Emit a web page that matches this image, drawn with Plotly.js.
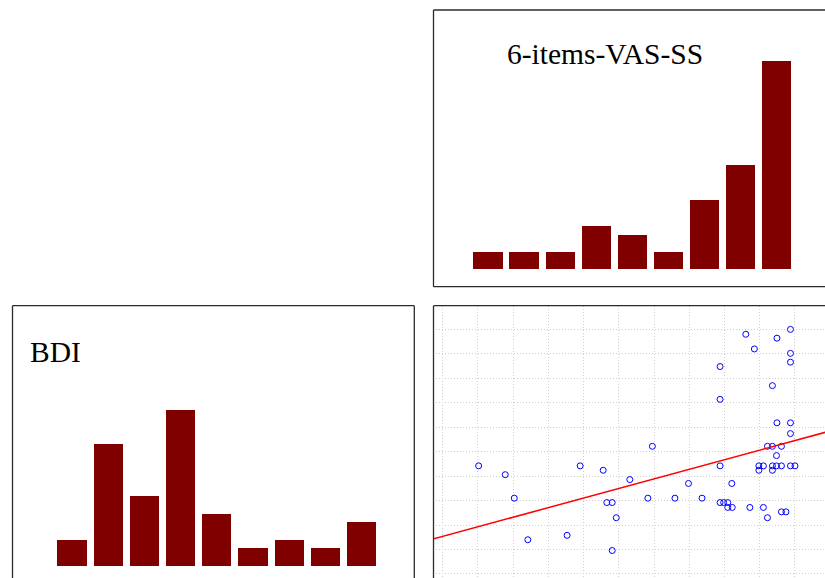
<!DOCTYPE html>
<html>
<head>
<meta charset="utf-8">
<script src="https://cdn.plot.ly/plotly-3.0.1.min.js"></script>
<style>
  html, body { margin: 0; padding: 0; background: #fff; overflow: hidden; }
  #chart { width: 825px; height: 578px; }
</style>
</head>
<body>
<div id="chart"></div>
<script>
// ---- data ----
const binIndex = [1, 2, 3, 4, 5, 6, 7, 8, 9];
const vasCounts = [2, 2, 2, 5, 4, 2, 8, 12, 24];
const bdiCounts = [3, 14, 8, 18, 6, 2, 3, 2, 5];

const vasLabel = "6-items-VAS-SS";
const bdiLabel = "BDI";

const vasScore = [-0.1, 5.8, 7.8, 10.8, 19.5, 22.4, 27.5, 28.3, 29.5, 30.4,
  29.5, 33.4, 37.4, 38.4, 43.4, 46.4, 49.4, 53.4, 53.4, 53.4,
  53.4, 54.2, 55.1, 55.1, 56.1, 56.0, 59.1, 60.0, 61.0, 62.0,
  63.0, 62.0, 63.0, 63.9, 65.0, 67.0, 63.9, 65.0, 65.0, 65.9,
  67.0, 65.0, 65.9, 66.0, 66.0, 67.0, 68.0, 69.0, 69.0, 69.0,
  69.0, 69.0, 69.0, 70.0];
const bdiScore = [22.1, 20.3, 15.5, 7.0, 7.9, 22.1, 21.2, 14.6, 14.6, 11.5,
  4.8, 19.3, 15.5, 26.1, 15.5, 18.5, 15.5, 42.4, 35.7, 22.1,
  14.6, 14.6, 14.6, 13.6, 13.6, 18.5, 49.0, 13.6, 46.0, 22.1,
  22.1, 21.2, 13.6, 26.1, 26.1, 26.1, 11.5, 38.5, 22.1, 22.1,
  22.1, 21.2, 24.2, 48.2, 30.9, 12.7, 12.7, 50.0, 45.1, 43.3,
  30.9, 28.7, 22.1, 22.1];

const fitIntercept = 9.71;
const fitSlope = 0.251;

// ---- layout helpers (pixel -> paper) ----
const W = 825, H = 578;
const px = v => v / W;
const py = v => 1 - v / H;

const barColor = "#800000";
const fitX = [-15, 85];
const fitY = fitX.map(x => fitIntercept + fitSlope * x);

const traces = [
  { type: "bar", x: binIndex, y: vasCounts, xaxis: "x", yaxis: "y",
    width: 0.81, marker: { color: barColor, line: { width: 0 } }, hoverinfo: "skip" },
  { type: "bar", x: binIndex, y: bdiCounts, xaxis: "x2", yaxis: "y2",
    width: 0.81, marker: { color: barColor, line: { width: 0 } }, hoverinfo: "skip" },
  { type: "scatter", mode: "markers", x: vasScore, y: bdiScore, xaxis: "x3", yaxis: "y3",
    marker: { symbol: "circle-open", size: 6, color: "#0000ff", line: { width: 1, color: "#0000ff" } },
    hoverinfo: "skip" },
  { type: "scatter", mode: "lines", x: fitX, y: fitY, xaxis: "x3", yaxis: "y3",
    line: { color: "#ff0000", width: 1.5 }, hoverinfo: "skip" }
];

const bare = { showticklabels: false, showgrid: false, zeroline: false, ticks: "", showline: false, fixedrange: true };

const layout = {
  width: W, height: H,
  margin: { l: 0, r: 0, t: 0, b: 0, pad: 0 },
  paper_bgcolor: "#ffffff", plot_bgcolor: "rgba(0,0,0,0)",
  showlegend: false,
  bargap: 0,
  xaxis: Object.assign({}, bare, { domain: [px(433), 1], range: [-0.5235, 10.335], anchor: "y" }),
  yaxis: Object.assign({}, bare, { domain: [py(286.7), py(10)], range: [-2.0, 29.92], anchor: "x" }),
  xaxis2: Object.assign({}, bare, { domain: [px(12.3), px(414.3)], range: [-0.649, 10.456], anchor: "y2" }),
  yaxis2: Object.assign({}, bare, { domain: [0, py(305.7)], range: [-1.42, 30.0], anchor: "x2" }),
  xaxis3: Object.assign({}, bare, { domain: [px(433), 1], range: [-10.21, 76.65], anchor: "y3",
    showgrid: true, tick0: 70, dtick: 7.806, gridcolor: "#cfcfcf", griddash: "1px,2px", gridwidth: 1 }),
  yaxis3: Object.assign({}, bare, { domain: [0, py(305.7)], range: [-0.82, 54.84], anchor: "x3",
    showgrid: true, tick0: 0, dtick: 5, gridcolor: "#cfcfcf", griddash: "1px,2px", gridwidth: 1 }),
  annotations: [
    { text: vasLabel, xref: "paper", yref: "paper", x: px(504.5), y: py(54), xanchor: "left", yanchor: "middle",
      showarrow: false, font: { family: "Liberation Serif, Times New Roman, serif", size: 29.5, color: "#000" } },
    { text: bdiLabel, xref: "paper", yref: "paper", x: px(28), y: py(352), xanchor: "left", yanchor: "middle",
      showarrow: false, font: { family: "Liberation Serif, Times New Roman, serif", size: 29.5, color: "#000" } }
  ],
  shapes: []
};

const border = { color: "#2b2b2b", width: 1.3 };
function seg(x0, y0, x1, y1) {
  layout.shapes.push({ type: "line", xref: "paper", yref: "paper", x0: x0, y0: y0, x1: x1, y1: y1, line: border });
}
// top-right histogram panel
seg(px(433.5), py(10), px(433.5), py(286.7));
seg(px(433.5), py(10), 1, py(10));
seg(px(433.5), py(286.7), 1, py(286.7));
// bottom-left histogram panel
seg(px(12.5), py(305.7), px(12.5), 0);
seg(px(414.3), py(305.7), px(414.3), 0);
seg(px(12.5), py(305.7), px(414.3), py(305.7));
// scatter panel
seg(px(433.5), py(305.7), px(433.5), 0);
seg(px(433.5), py(305.7), 1, py(305.7));

Plotly.newPlot("chart", traces, layout, { staticPlot: true, displayModeBar: false });
</script>
</body>
</html>
